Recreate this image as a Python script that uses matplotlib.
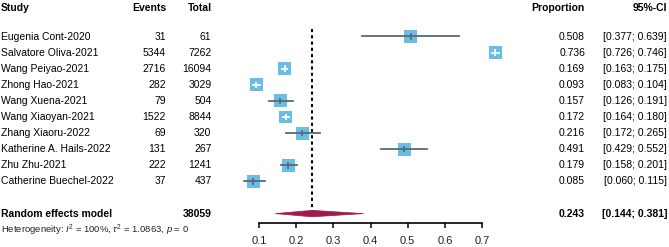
import numpy as np
import matplotlib
matplotlib.use("Agg")
import matplotlib.pyplot as plt
from matplotlib.patches import Rectangle, Polygon
from matplotlib.transforms import blended_transform_factory

studies = ["Eugenia Cont-2020", "Salvatore Oliva-2021", "Wang Peiyao-2021", "Zhong Hao-2021",
           "Wang Xuena-2021", "Wang Xiaoyan-2021", "Zhang Xiaoru-2022", "Katherine A. Hails-2022",
           "Zhu Zhu-2021", "Catherine Buechel-2022"]
events = [31, 5344, 2716, 282, 79, 1522, 69, 131, 222, 37]
totals = [61, 7262, 16094, 3029, 504, 8844, 320, 267, 1241, 437]
props = [0.508, 0.736, 0.169, 0.093, 0.157, 0.172, 0.216, 0.491, 0.179, 0.085]
lower = [0.377, 0.726, 0.163, 0.083, 0.126, 0.164, 0.172, 0.429, 0.158, 0.060]
upper = [0.639, 0.746, 0.175, 0.104, 0.191, 0.180, 0.265, 0.552, 0.201, 0.115]

re_total = 38059
re_prop, re_lo, re_hi = 0.243, 0.144, 0.381
het_text = r"Heterogeneity: $I^2$ = 100%, $\tau^2$ = 1.0863, $p$ = 0"
ticks = [0.1, 0.2, 0.3, 0.4, 0.5, 0.6, 0.7]

plt.rcParams['font.family'] = ['Liberation Sans', 'DejaVu Sans']
plt.rcParams['mathtext.fontset'] = 'custom'
plt.rcParams['mathtext.it'] = 'Liberation Sans:italic'
plt.rcParams['mathtext.rm'] = 'Liberation Sans'
W, H = 669, 247
fig = plt.figure(figsize=(W / 100, H / 100), dpi=100)

# plot area: 0.1 -> x=259px, 0.7 -> x=482px, axis line at y=223px
row0, step = 36.5, 16.1
ax = fig.add_axes([259 / W, 1 - 223 / H, 223 / W, 223 / H])
ax.set_xlim(0.1, 0.7)
ax.set_ylim((223 - row0) / step, (0 - row0) / step)
for s in ["top", "right", "left"]:
    ax.spines[s].set_visible(False)
ax.spines["bottom"].set_linewidth(1.2)
ax.set_yticks([])
ax.set_xticks(ticks)
ax.set_xticklabels(["%.1f" % t for t in ticks], fontsize=8, color="#222222")
ax.tick_params(axis="x", length=3.5, width=1.1, pad=6)

sq_col = "#6cbde6"
ci_col = "#5c6872"
hw, hh = 0.0175, 0.4

ax.plot([re_prop, re_prop], [-0.45, 11], color="black", lw=1.5,
        linestyle=(0, (1.5, 1.5)), zorder=1)

for i in range(len(studies)):
    p, lo, hi = props[i], lower[i], upper[i]
    ax.add_patch(Rectangle((p - hw, i - hh), 2 * hw, 2 * hh, facecolor=sq_col,
                           edgecolor="none", clip_on=False, zorder=2))
    col = "white" if (lo >= p - hw and hi <= p + hw) else ci_col
    ax.plot([lo, hi], [i, i], color=col, lw=1.3, clip_on=False, zorder=3)
    ax.plot([p, p], [i - 0.14, i + 0.14], color=col, lw=1.3, clip_on=False, zorder=3)

ry = 11
ax.add_patch(Polygon([[re_lo, ry], [re_prop, ry - 0.2], [re_hi, ry], [re_prop, ry + 0.2]],
                     closed=True, facecolor="#a01a4c", edgecolor="#a01a4c", lw=0.5,
                     clip_on=False, zorder=3))

# text columns in pixel x, row y
tr = blended_transform_factory(fig.transFigure, ax.transData)
fs = 7.5
hy = (8 - row0) / step
def px(x):
    return x / W

ax.text(px(1), hy, "Study", transform=tr, fontsize=fs, fontweight="bold", va="center", ha="left")
ax.text(px(166), hy, "Events", transform=tr, fontsize=fs, fontweight="bold", va="center", ha="right")
ax.text(px(211.5), hy, "Total", transform=tr, fontsize=fs, fontweight="bold", va="center", ha="right")
ax.text(px(585), hy, "Proportion", transform=tr, fontsize=fs, fontweight="bold", va="center", ha="right")
ax.text(px(667), hy, "95%-CI", transform=tr, fontsize=fs, fontweight="bold", va="center", ha="right")

for i in range(len(studies)):
    ax.text(px(1), i, studies[i], transform=tr, fontsize=fs, va="center", ha="left")
    ax.text(px(166), i, str(events[i]), transform=tr, fontsize=fs, va="center", ha="right")
    ax.text(px(211.5), i, str(totals[i]), transform=tr, fontsize=fs, va="center", ha="right")
    ax.text(px(585), i, "%.3f" % props[i], transform=tr, fontsize=fs, va="center", ha="right")
    ax.text(px(667), i, "[%.3f; %.3f]" % (lower[i], upper[i]), transform=tr, fontsize=fs,
            va="center", ha="right")

ax.text(px(1), ry, "Random effects model", transform=tr, fontsize=fs, fontweight="bold", va="center", ha="left")
ax.text(px(211.5), ry, str(re_total), transform=tr, fontsize=fs, fontweight="bold", va="center", ha="right")
ax.text(px(585), ry, "%.3f" % re_prop, transform=tr, fontsize=fs, fontweight="bold", va="center", ha="right")
ax.text(px(667), ry, "[%.3f; %.3f]" % (re_lo, re_hi), transform=tr, fontsize=fs, fontweight="bold",
        va="center", ha="right")
ax.text(px(1), (230 - row0) / step, het_text, transform=tr, fontsize=6.8, va="center", ha="left",
        color="#222222")

fig.savefig("out.png", dpi=100)
